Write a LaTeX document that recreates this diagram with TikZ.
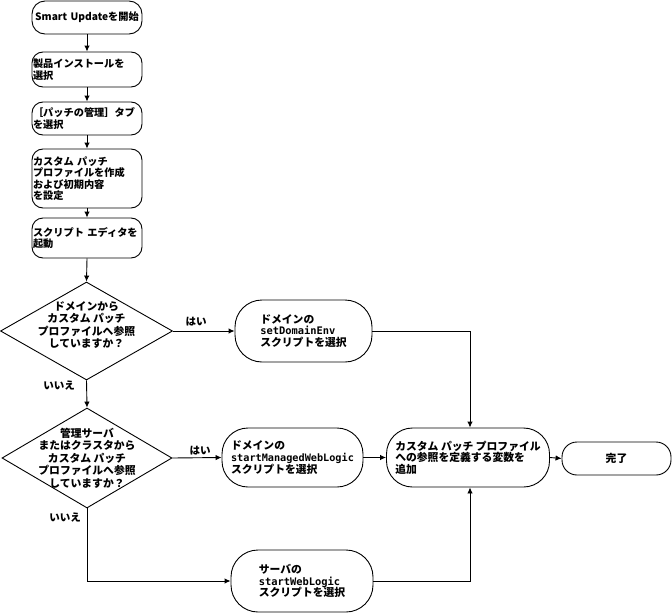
\documentclass[tikz,border=0pt]{standalone}
\usepackage{fontspec}
\setmainfont{Noto Sans CJK JP}
\newfontfamily\monof{DejaVu Sans Mono}
\usetikzlibrary{arrows.meta,shapes.geometric,calc}
\begin{document}
\begin{tikzpicture}[x=1pt,y=-1pt,
  jp/.style={font=\bfseries\fontsize{10.8}{11.6}\selectfont},
  proc/.style={draw, line width=0.9pt, rounded corners=11pt, minimum width=110pt,
    text width=108pt, align=left, inner sep=1pt, font=\bfseries\fontsize{10.2}{11.4}\selectfont},
  pill/.style={draw, line width=0.9pt, rectangle, inner sep=0pt, align=left, jp},
  dia/.style={draw, line width=0.9pt, shape=diamond, inner sep=0pt},
  diatext/.style={align=center, inner sep=0pt, font=\bfseries\fontsize{10.8}{12.6}\selectfont},
  lbl/.style={inner sep=0pt, font=\bfseries\fontsize{10.5}{12}\selectfont},
  conn/.style={line width=0.9pt, -{Latex[length=6pt,width=5.5pt]}}
]
\useasboundingbox (0,0) rectangle (672,613);
% left column
\node[proc, minimum height=33pt, rounded corners=13pt, align=center] (b1) at (87,17.5) {\mbox{Smart Updateを開始}};
\node[proc, minimum height=35pt] (b2) at (87,69.5) {製品インストールを\\選択};
\node[proc, minimum height=33pt] (b3) at (87,118.5) {［パッチの管理］タブ\\ を選択};
\node[proc, minimum height=59pt] (b4) at (87,178.5) {カスタム パッチ\\プロファイルを作成\\および初期内容\\を設定};
\node[proc, minimum height=40pt] (b5) at (87,238) {\mbox{スクリプト エディタを}\\起動};
% decisions
\node[dia, minimum width=172pt, minimum height=98pt] (d1) at (86.5,331) {};
\node[diatext] (d1t) at (86.5,325) {ドメインから\\カスタム パッチ\\プロファイルへ参照\\していますか？};
\node[dia, minimum width=170pt, minimum height=100pt] (d2) at (87,458) {};
\node[diatext] (d2t) at (87,458) {管理サーバ\\またはクラスタから\\カスタム パッチ\\プロファイルへ参照\\していますか？};
% right side
\node[pill, minimum width=137pt, minimum height=62pt, rounded corners=27pt] (sde) at (303.5,331)
  {ドメインの\\{\monof\fontsize{10.4}{11.6}\selectfont\bfseries setDomainEnv}\\スクリプトを選択};
\node[pill, minimum width=141pt, minimum height=59pt, rounded corners=26pt] (sm) at (292.5,457.5)
  {ドメインの\\{\monof\fontsize{10.2}{11.6}\selectfont\bfseries startManagedWebLogic}\\スクリプトを選択};
\node[pill, minimum width=163pt, minimum height=59pt, rounded corners=26pt] (cv) at (468,457.5)
  {カスタム パッチ プロファイル\\への参照を定義する変数を\\追加};
\node[pill, minimum width=109pt, minimum height=33pt, rounded corners=15pt, align=center] (done) at (616.5,458.5) {完了};
\node[pill, minimum width=142pt, minimum height=62pt, rounded corners=27pt] (swl) at (302,581)
  {サーバの\\{\monof\fontsize{10.4}{11.6}\selectfont\bfseries startWebLogic}\\スクリプトを選択};
% labels
\node[lbl] (y1) at (196,322) {はい};
\node[lbl] (y2) at (200,451) {はい};
\node[lbl] (n1) at (59,386) {いいえ};
\node[lbl] (n2) at (65,518) {いいえ};
% connectors
\draw[conn] (b1) -- (b2);
\draw[conn] (b2) -- (b3);
\draw[conn] (b3) -- (b4);
\draw[conn] (b4) -- (b5);
\draw[conn] (b5.south) -- (d1.north);
\draw[conn] (d1.south) -- (d2.north);
\draw[conn] (d1.east) -- (sde.west);
\draw[conn] (d2.east) -- (sm.west);
\draw[conn] (sm.east) -- (cv.west);
\draw[conn] (cv.east) -- (done.west);
\draw[conn] (d2.south) |- (swl.west);
\draw[conn] (sde.east) -| ($(cv.north)+(2,0)$);
\draw[conn] (swl.east) -| ($(cv.south)+(2,0)$);
\end{tikzpicture}
\end{document}
